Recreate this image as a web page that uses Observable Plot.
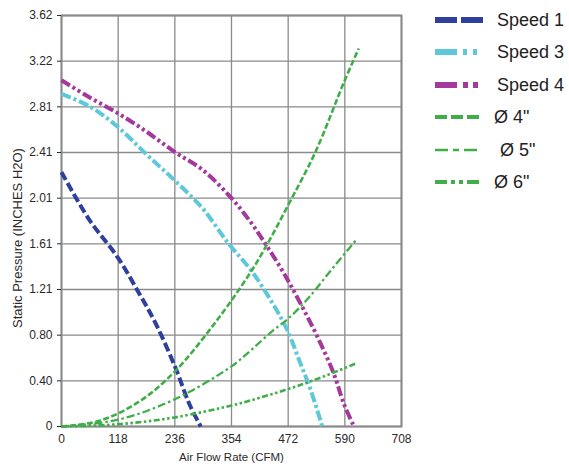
<!DOCTYPE html>
<html>
<head>
<meta charset="utf-8">
<script src="https://cdn.jsdelivr.net/npm/d3@7"></script>
<script src="https://cdn.jsdelivr.net/npm/@observablehq/plot@0.6"></script>
<style>
  html, body { margin: 0; padding: 0; background: #fff; }
  #chart { width: 569px; height: 469px; }
</style>
</head>
<body>
<div id="chart"></div>
<script>
// Axis ticks
const xTicks = [0, 118, 236, 354, 472, 590, 708];
const yTickLabels = ["0", "0.40", "0.80", "1.21", "1.61", "2.01", "2.41", "2.81", "3.22", "3.62"];
const yMax = 3.62;

// Series: [CFM, inches H2O]
const speed1 = [[0,2.24],[58,1.82],[117,1.49],[162,1.17],[197,0.9],[238,0.51],[266,0.2],[290,0]];
const speed3 = [[0,2.93],[58,2.82],[117,2.64],[176,2.40],[235,2.17],[294,1.92],[348,1.61],[394,1.38],[436,1.11],[470,0.85],[498,0.55],[519,0.32],[543,0]];
const speed4 = [[0,3.05],[58,2.90],[117,2.76],[176,2.60],[235,2.42],[294,2.26],[352,2.02],[394,1.80],[429,1.58],[463,1.35],[498,1.08],[533,0.79],[567,0.465],[588,0.2],[609,0]];
const dia4 = [[0,0],[79,0.05],[162,0.22],[235,0.48],[321,0.92],[394,1.36],[429,1.61],[477,1.99],[529,2.42],[588,3.03],[619,3.33]];
const dia5 = [[0,0],[118,0.06],[236,0.24],[354,0.53],[394,0.67],[439,0.84],[472,0.95],[512,1.12],[560,1.37],[616,1.655]];
const dia6 = [[0,0],[118,0.02],[236,0.08],[354,0.185],[394,0.23],[472,0.33],[530,0.415],[612,0.553]];

const seriesNames = ["Speed 1", "Speed 3", "Speed 4", "Ø 4\"", "Ø 5\"", "Ø 6\""];
const seriesData = [speed1, speed3, speed4, dia4, dia5, dia6];
const seriesColors = ["#2f3f9c", "#5dc8da", "#a3389d", "#3fae48", "#3fae48", "#3fae48"];
const seriesWidths = [4, 4, 4, 2.6, 2.3, 2.6];
const seriesDash = ["9,3.5", "10,3,3,3", "10,3,3,3,3,3", "6,2.5", "8,3,2.5,3", "6,2.5,2.5,2.5,2.5,2.5"];
const legendWidths = [6, 6, 6, 4, 2.6, 4];
const legendDash = ["22,4,22", "22,6,4,6,4", "22,6,5,5,5", "12,4,12,4,12", "13,5,6,5,13", "12,4,4,4,4,4,12"];

const lineMarks = seriesData.map((d, i) => Plot.line(d, {
  x: p => p[0], y: p => p[1],
  stroke: seriesColors[i], strokeWidth: seriesWidths[i],
  strokeDasharray: seriesDash[i], strokeLinecap: "butt", curve: "catmull-rom"
}));

const yTicks = yTickLabels.map((_, i) => i * yMax / (yTickLabels.length - 1));

const plot = Plot.plot({
  width: 569, height: 469,
  marginLeft: 61, marginRight: 168, marginTop: 15, marginBottom: 43,
  style: { fontFamily: "Arial, 'Liberation Sans', sans-serif", fontSize: "12px", color: "#2a2a2a", background: "#fff" },
  x: { domain: [0, 708], ticks: xTicks, label: null, tickSize: 0, tickPadding: 8 },
  y: { domain: [0, yMax], ticks: yTicks, tickFormat: (d, i) => yTickLabels[i], label: null, tickSize: 4, tickPadding: 2 },
  marks: [
    Plot.gridX(xTicks, { stroke: "#8a8a8a", strokeOpacity: 1, strokeWidth: 1.3 }),
    Plot.gridY(yTicks, { stroke: "#8a8a8a", strokeOpacity: 1, strokeWidth: 1.3 }),
    Plot.frame({ stroke: "#8a8a8a", strokeWidth: 2 }),
    ...lineMarks,
    Plot.axisX({ ticks: xTicks, tickSize: 0, tickPadding: 8, fontSize: 12 }),
    Plot.axisY({ ticks: yTicks, tickFormat: (d, i) => yTickLabels[i], tickSize: 4, fontSize: 12 }),
    Plot.text(["Air Flow Rate (CFM)"], { frameAnchor: "bottom", lineAnchor: "middle", textAnchor: "middle", dy: 31, fontSize: 11.5, fill: "#2a2a2a" }),
    Plot.text(["Static Pressure (INCHES H2O)"], { frameAnchor: "left", lineAnchor: "middle", textAnchor: "middle", dx: -44, dy: 17, rotate: -90, fontSize: 13, fill: "#2a2a2a" })
  ]
});

document.getElementById("chart").appendChild(plot);

// Legend drawn into the same SVG
const svg = d3.select(plot);
const legendRowY = [20, 52, 85, 117, 150, 182];
const lg = svg.append("g").attr("font-family", "Arial, 'Liberation Sans', sans-serif").attr("text-anchor", "start");
seriesNames.forEach((name, i) => {
  const y = legendRowY[i];
  lg.append("line").attr("x1", 435).attr("x2", 485).attr("y1", y).attr("y2", y)
    .attr("stroke", seriesColors[i]).attr("stroke-width", legendWidths[i])
    .attr("stroke-dasharray", legendDash[i]);
  lg.append("text").attr("x", i < 3 ? 497 : (i === 4 ? 500 : 494)).attr("y", y).attr("dy", "0.36em")
    .attr("text-anchor", "start")
    .attr("font-size", 18).attr("fill", "#222").text(name);
});
</script>
</body>
</html>
